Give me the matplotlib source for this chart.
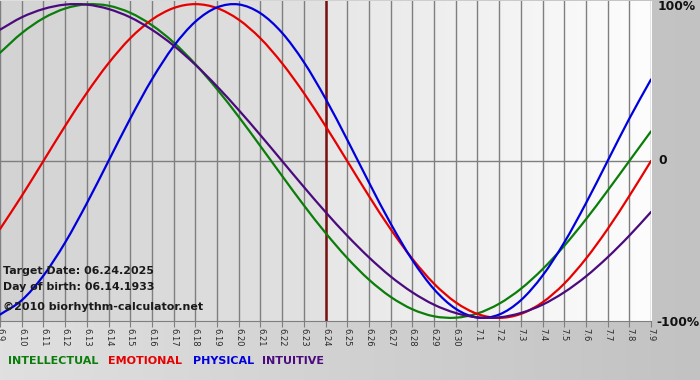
import matplotlib
matplotlib.use('Agg')
import matplotlib.pyplot as plt
import numpy as np
from matplotlib.colors import LinearSegmentedColormap
from matplotlib.path import Path
from matplotlib.patches import PathPatch

# ---- data ----
days = ['6.9', '6.10', '6.11', '6.12', '6.13', '6.14', '6.15', '6.16', '6.17', '6.18',
        '6.19', '6.20', '6.21', '6.22', '6.23', '6.24', '6.25', '6.26', '6.27', '6.28',
        '6.29', '6.30', '7.1', '7.2', '7.3', '7.4', '7.5', '7.6', '7.7', '7.8', '7.9']

intellectual = [0.690, 0.815, 0.910, 0.972, 0.999, 0.990, 0.945, 0.866, 0.756, 0.618,
                0.458, 0.282, 0.095, -0.095, -0.282, -0.458, -0.618, -0.756, -0.866, -0.945,
                -0.990, -0.999, -0.972, -0.910, -0.815, -0.690, -0.541, -0.372, -0.189, 0.000,
                0.189]
emotional = [-0.434, -0.223, 0.000, 0.223, 0.434, 0.623, 0.782, 0.901, 0.975, 1.000,
             0.975, 0.901, 0.782, 0.623, 0.434, 0.223, 0.000, -0.223, -0.434, -0.623,
             -0.782, -0.901, -0.975, -1.000, -0.975, -0.901, -0.782, -0.623, -0.434, -0.223,
             0.000]
physical = [-0.979, -0.888, -0.731, -0.520, -0.270, 0.000, 0.270, 0.520, 0.731, 0.888,
            0.979, 0.998, 0.942, 0.817, 0.631, 0.398, 0.136, -0.136, -0.398, -0.631,
            -0.817, -0.942, -0.998, -0.979, -0.888, -0.731, -0.520, -0.270, 0.000, 0.270,
            0.520]
intuitive = [0.837, 0.916, 0.969, 0.997, 0.997, 0.969, 0.916, 0.837, 0.736, 0.614,
             0.476, 0.325, 0.165, 0.000, -0.165, -0.325, -0.476, -0.614, -0.736, -0.837,
             -0.916, -0.969, -0.997, -0.997, -0.969, -0.916, -0.837, -0.736, -0.614, -0.476,
             -0.325]

target_label = '6.24'
series_names = ['INTELLECTUAL', 'EMOTIONAL', 'PHYSICAL', 'INTUITIVE']
series_colors = ['#0a7d0a', '#e60000', '#0000dd', '#4b0a7d']
info_lines = ['Target Date: 06.24.2025', 'Day of birth: 06.14.1933',
              '\u00a92010 biorhythm-calculator.net']


def smooth_path(xs, ys):
    """Catmull-Rom style smooth line through the data points as cubic Beziers."""
    xs = np.asarray(xs, float)
    ys = np.asarray(ys, float)
    n = len(xs)
    verts = [(xs[0], ys[0])]
    codes = [Path.MOVETO]
    for i in range(n - 1):
        x0, y0 = (xs[i - 1], ys[i - 1]) if i > 0 else (2 * xs[0] - xs[1], 2 * ys[0] - ys[1])
        x1, y1 = xs[i], ys[i]
        x2, y2 = xs[i + 1], ys[i + 1]
        x3, y3 = (xs[i + 2], ys[i + 2]) if i + 2 < n else (2 * xs[-1] - xs[-2], 2 * ys[-1] - ys[-2])
        c1 = (x1 + (x2 - x0) / 6, y1 + (y2 - y0) / 6)
        c2 = (x2 - (x3 - x1) / 6, y2 - (y3 - y1) / 6)
        verts += [c1, c2, (x2, y2)]
        codes += [Path.CURVE4] * 3
    return Path(verts, codes)


W, H = 700, 380
fig = plt.figure(figsize=(W / 100, H / 100), dpi=100)
fig.patch.set_facecolor('#c8c8c8')

# figure background gradient
bg = fig.add_axes([0, 0, 1, 1], zorder=-10)
bg.axis('off')
gx = np.linspace(0, 1, 200)[None, :]
bg.imshow(gx, extent=(0, 1, 0, 1), aspect='auto',
          cmap=LinearSegmentedColormap.from_list('b', ['#e0e0e0', '#c2c2c2']))
bg.set_xlim(0, 1); bg.set_ylim(0, 1)

ax = fig.add_axes([0, 1 - 321 / H, 651 / W, 320 / H])
x = np.arange(len(days))
ti = days.index(target_label)
ylo, yhi = -1.02, 1.02

# background gradients (past darker, future lighter)
ax.imshow(gx, extent=(0, ti, ylo, yhi), aspect='auto', zorder=0,
          cmap=LinearSegmentedColormap.from_list('l', ['#d3d3d3', '#e2e2e2']))
ax.imshow(gx, extent=(ti, len(days) - 1, ylo, yhi), aspect='auto', zorder=0,
          cmap=LinearSegmentedColormap.from_list('r', ['#e7e7e7', '#fdfdfd']))

for xi in x:
    ax.axvline(xi, color='#7f7f7f', lw=1.0, zorder=1)
ax.axhline(0, color='#7f7f7f', lw=1.0, zorder=1)
ax.axvline(ti, color='#7a1010', lw=1.8, zorder=2)

for vals, c in zip([intellectual, emotional, physical, intuitive], series_colors):
    ax.add_patch(PathPatch(smooth_path(x, vals), facecolor='none', edgecolor=c,
                           lw=1.6, zorder=3, capstyle='round', joinstyle='round'))

ax.set_xlim(0, len(days) - 1)
ax.set_ylim(ylo, yhi)
ax.set_xticks(x)
ax.set_xticklabels(days, rotation=-90, fontsize=6, color='#2a2a2a')
ax.tick_params(axis='x', length=4, color='#7f7f7f', pad=1)
ax.set_yticks([])
for s in ['top', 'left', 'right']:
    ax.spines[s].set_visible(False)
ax.spines['bottom'].set_color('#7f7f7f')

# right side labels
for txt, px, py in [('100%', 658, 7), ('0', 658, 161), ('-100%', 656, 322)]:
    fig.text(px / W, 1 - py / H, txt, va='center', ha='left', fontsize=8.8,
             fontweight='bold', color='#111111')

# info text
for txt, py, fs in zip(info_lines, [271, 287, 307], [7.9, 7.9, 8.0]):
    fig.text(3 / W, 1 - py / H, txt, va='center', ha='left', fontsize=fs,
             fontweight='bold', color='#1a1a1a')

# legend
for name, c, px in zip(series_names, series_colors, [8, 108, 193, 262]):
    fig.text(px / W, 1 - 361 / H, name, va='center', ha='left', fontsize=8.0,
             fontweight='bold', color=c)

fig.savefig('out.png', dpi=100, facecolor=fig.get_facecolor())
